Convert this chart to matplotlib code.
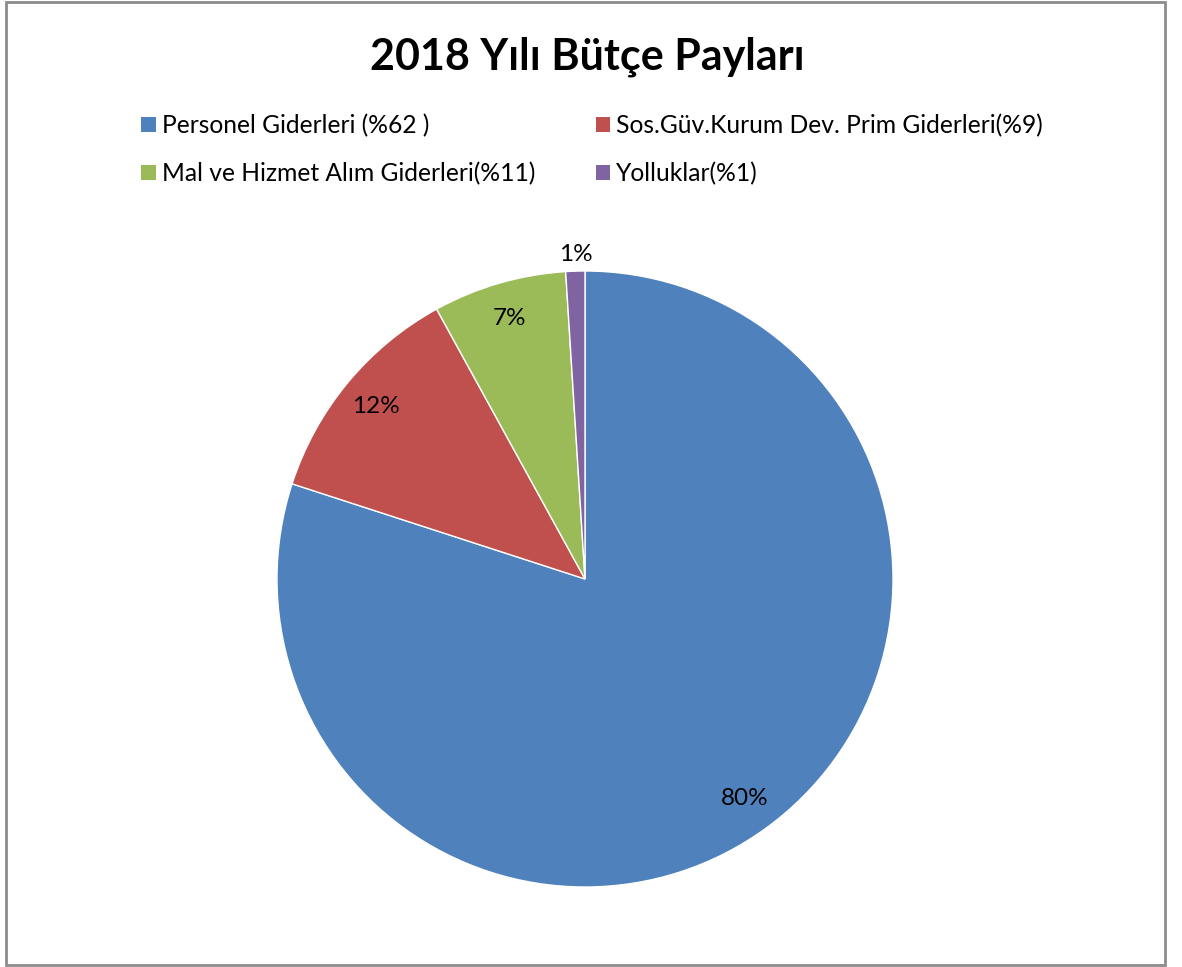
import matplotlib.pyplot as plt
from matplotlib.patches import Patch, Rectangle

# Veri
dilimler = ["Personel Giderleri (%62 )", "Sos.Güv.Kurum Dev. Prim Giderleri(%9)",
            "Mal ve Hizmet Alım Giderleri(%11)", "Yolluklar(%1)"]
paylar = [80, 12, 7, 1]
renkler = ["#4F81BD", "#C0504D", "#9BBB59", "#8064A2"]

plt.rcParams['font.family'] = ['Lato', 'DejaVu Sans']

W, H = 1182, 967
fig = plt.figure(figsize=(W / 100, H / 100), dpi=100)

# cerceve
fig.patches.append(Rectangle((6 / W, 2 / H), 1159 / W, 963 / H, transform=fig.transFigure,
                             fill=False, edgecolor="#8C8C8C", linewidth=2))

cx, cy, r = 585, 579, 308
ax = fig.add_axes([(cx - r) / W, (H - cy - r) / H, 2 * r / W, 2 * r / H])
wedges, texts, autotexts = ax.pie(paylar, colors=renkler, startangle=90, counterclock=False,
                                  autopct="%d%%", pctdistance=0.88,
                                  wedgeprops=dict(edgecolor="white", linewidth=1),
                                  textprops=dict(fontsize=17.5, color="black"))
# en kucuk dilimin etiketi disarida
autotexts[3].set_position((-0.03, 1.055))
ax.set_xlim(-1, 1)
ax.set_ylim(-1, 1)
ax.set_aspect("equal")

fig.text(587 / W, 1 - 57 / H, "2018 Yılı Bütçe Payları", ha="center", va="center",
         fontsize=31, fontweight="bold")

sira = [0, 2, 1, 3]
handles = [Patch(facecolor=renkler[i]) for i in sira]
labels = [dilimler[i] for i in sira]
fig.legend(handles, labels, ncol=2, loc="upper left", bbox_to_anchor=(141 / W, 1 - 114 / H),
           frameon=False, fontsize=17.7, handlelength=0.6, handleheight=0.6, handletextpad=0.25,
           columnspacing=2.45, labelspacing=1.0, borderpad=0, borderaxespad=0)

plt.savefig("out.png", dpi=100)
